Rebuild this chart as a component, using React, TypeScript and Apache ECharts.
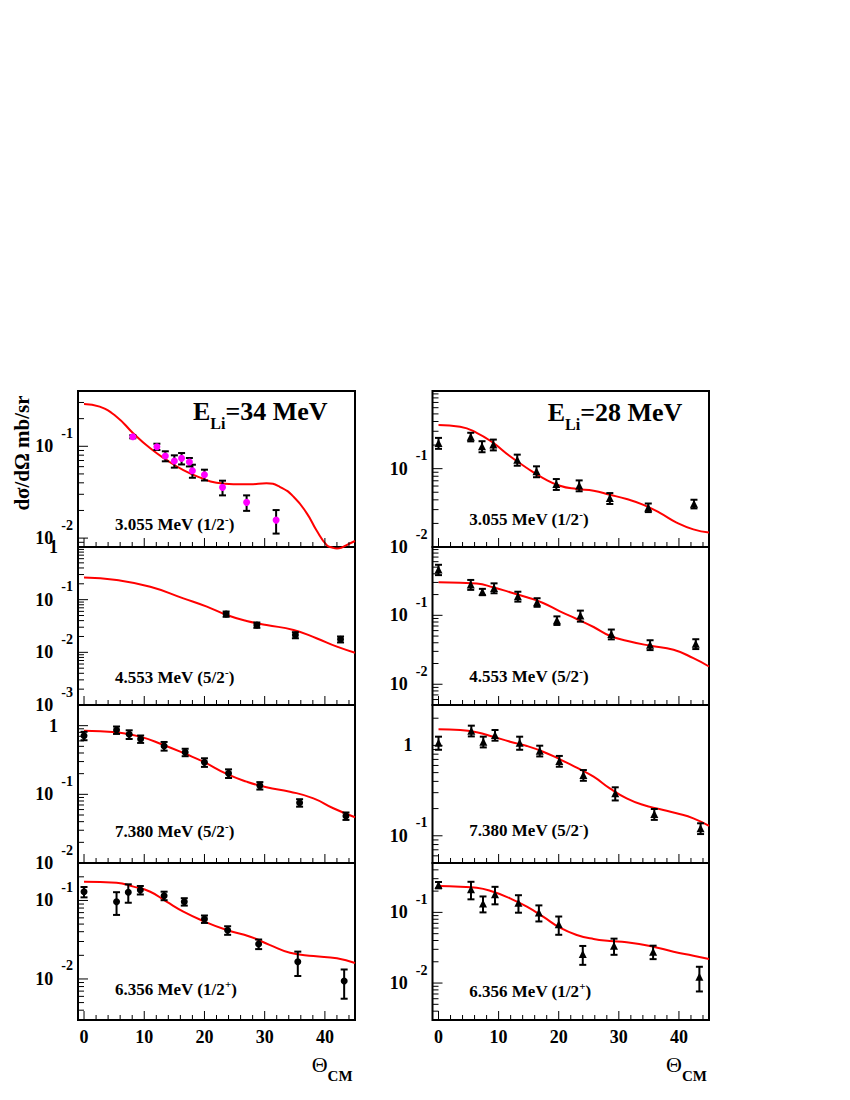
import React, { useEffect, useRef } from 'react';
import * as echarts from 'echarts';

const FF = '"Liberation Serif", "Times New Roman", Times, serif';

// ---- axis ticks ----
const xMajorTicks = [0, 10, 20, 30, 40];
const xMinorTicks = [2, 4, 6, 8, 12, 14, 16, 18, 22, 24, 26, 28, 32, 34, 36, 38, 42, 44];

// ---- E_Li = 34 MeV (left column) ----
// 3.055 MeV (1/2-)
const l1X = [8.1, 12.1, 13.5, 15.0, 16.2, 17.5, 18.0, 20.0, 23.0, 27.0, 31.9];
const l1Y = [0.127, 0.0989, 0.0784, 0.0691, 0.0739, 0.0674, 0.0542, 0.049, 0.0357, 0.0245, 0.0157];
const l1E = [0.0048, 0.0077, 0.0098, 0.0106, 0.0105, 0.0071, 0.0088, 0.0066, 0.0065, 0.0047, 0.0045];
const l1CX = [0, 2.6, 5.4, 8.2, 11.0, 13.7, 16.5, 19.3, 22.0, 24.8, 27.6, 30.3, 32.5, 34.8, 37.0, 38.6, 40.3, 41.2, 42.0, 42.8, 43.6, 45];
const l1CY = [0.289, 0.27, 0.21, 0.138, 0.095, 0.071, 0.055, 0.0455, 0.04, 0.0386, 0.0386, 0.0395, 0.0362, 0.0282, 0.0186, 0.0122, 0.0084, 0.0079, 0.0077, 0.0079, 0.0084, 0.0093];
// 4.553 MeV (5/2-)
const l2X = [23.6, 28.7, 35.1, 42.6];
const l2Y = [0.0534, 0.033, 0.0213, 0.0177];
const l2E = [0.0061, 0.0038, 0.0028, 0.0023];
const l2CX = [0, 5.4, 11.0, 16.5, 20.4, 23.7, 27.0, 30.3, 34.8, 38.6, 42.0, 45];
const l2CY = [0.265, 0.236, 0.176, 0.106, 0.0736, 0.0512, 0.0394, 0.033, 0.0266, 0.0185, 0.0128, 0.00985];
// 7.380 MeV (5/2-)
const l3X = [0, 5.4, 7.5, 9.4, 13.3, 16.8, 20.0, 24.0, 29.2, 35.8, 43.5];
const l3Y = [0.714, 0.865, 0.748, 0.64, 0.506, 0.41, 0.293, 0.202, 0.134, 0.0755, 0.0484];
const l3E = [0.1, 0.107, 0.108, 0.079, 0.073, 0.051, 0.042, 0.029, 0.0166, 0.0094, 0.006];
const l3CX = [0, 5.4, 9.3, 13.2, 17.0, 19.8, 23.7, 27.0, 30.3, 34.2, 38.1, 41.4, 45];
const l3CY = [0.845, 0.8, 0.692, 0.523, 0.383, 0.299, 0.198, 0.153, 0.1266, 0.1094, 0.0875, 0.0627, 0.0463];
// 6.356 MeV (1/2+)
const l4X = [0, 5.4, 7.35, 9.35, 13.3, 16.65, 20.0, 23.85, 29.0, 35.5, 43.2];
const l4Y = [0.129, 0.0964, 0.127, 0.136, 0.115, 0.0964, 0.058, 0.0417, 0.0279, 0.0166, 0.0094];
const l4E = [0.0195, 0.031, 0.0335, 0.0169, 0.0143, 0.0104, 0.0063, 0.0052, 0.0039, 0.0057, 0.0038];
const l4CX = [0, 5.4, 8.2, 11.0, 13.7, 16.5, 19.8, 23.7, 27.6, 30.9, 34.2, 38.1, 42.0, 45];
const l4CY = [0.173, 0.168, 0.15, 0.129, 0.0964, 0.072, 0.0547, 0.042, 0.0345, 0.027, 0.0216, 0.0196, 0.0183, 0.016];

// ---- E_Li = 28 MeV (right column) ----
const r1X = [0, 5.36, 7.24, 9.12, 13.1, 16.3, 19.6, 23.4, 28.5, 34.9, 42.5];
const r1Y = [0.213, 0.255, 0.193, 0.203, 0.13, 0.0924, 0.0636, 0.0611, 0.0421, 0.0319, 0.0356];
const r1E = [0.034, 0.032, 0.031, 0.032, 0.021, 0.0147, 0.0101, 0.0097, 0.0067, 0.004, 0.0045];
const r1CX = [0, 3.6, 6.35, 9.1, 11.9, 14.7, 17.4, 20.2, 23.0, 25.8, 28.5, 31.3, 34.1, 36.9, 39.6, 42.4, 45];
const r1CY = [0.36, 0.342, 0.287, 0.213, 0.144, 0.102, 0.0759, 0.0605, 0.0549, 0.0522, 0.0464, 0.0409, 0.0345, 0.027, 0.0205, 0.0168, 0.0153];

const r2X = [0, 5.36, 7.3, 9.24, 13.2, 16.4, 19.7, 23.6, 28.75, 35.2, 42.8];
const r2Y = [0.462, 0.28, 0.219, 0.25, 0.189, 0.155, 0.0845, 0.099, 0.0535, 0.0374, 0.0387];
const r2E = [0.079, 0.046, 0.023, 0.041, 0.031, 0.022, 0.012, 0.018, 0.0087, 0.0061, 0.0063];
const r2CX = [0, 3.6, 6.35, 9.1, 11.9, 14.7, 17.4, 20.2, 23.0, 25.8, 28.5, 31.3, 35.2, 39.1, 42.4, 45];
const r2CY = [0.302, 0.296, 0.289, 0.255, 0.216, 0.183, 0.151, 0.114, 0.0885, 0.0677, 0.0506, 0.0428, 0.0362, 0.0316, 0.0239, 0.0181];

const r3X = [0, 5.46, 7.45, 9.4, 13.5, 16.84, 20.1, 24.1, 29.4, 35.9, 43.6];
const r3Y = [1.072, 1.456, 1.1, 1.305, 1.072, 0.874, 0.673, 0.47, 0.295, 0.174, 0.121];
const r3E = [0.177, 0.198, 0.15, 0.177, 0.177, 0.119, 0.092, 0.064, 0.049, 0.024, 0.0165];
const r3CX = [0, 3.6, 6.35, 9.1, 11.9, 14.7, 17.4, 20.2, 23.0, 25.8, 28.5, 31.3, 34.1, 36.9, 39.6, 42.4, 45];
const r3CY = [1.507, 1.48, 1.397, 1.249, 1.1, 0.985, 0.852, 0.702, 0.567, 0.451, 0.335, 0.26, 0.219, 0.197, 0.1775, 0.156, 0.1285];

const r4X = [0, 5.4, 7.4, 9.4, 13.3, 16.7, 20.0, 24.0, 29.2, 35.7, 43.4];
const r4Y = [0.244, 0.212, 0.134, 0.18, 0.137, 0.1, 0.0678, 0.0258, 0.0338, 0.0278, 0.0123];
const r4E = [0.025, 0.059, 0.034, 0.05, 0.038, 0.0256, 0.0196, 0.0077, 0.0087, 0.006, 0.0047];
const r4CX = [0, 3.6, 6.35, 9.1, 11.9, 14.7, 17.4, 20.2, 23.0, 25.8, 28.5, 31.3, 35.7, 39.1, 42.4, 45];
const r4CY = [0.236, 0.231, 0.2236, 0.196, 0.158, 0.1205, 0.0869, 0.0607, 0.0479, 0.042, 0.0394, 0.0378, 0.0327, 0.0278, 0.0244, 0.0219];

// y ranges per panel
const leftRanges = [[0.008, 0.4], [0.001, 1], [0.01, 2], [0.003, 0.3]];
const rightRanges = [[0.01, 0.98], [0.005, 0.98], [0.05, 2.8], [0.003, 0.5]];

// state labels: [main text, parity]
const stateTexts = ['3.055 MeV (1/2', '4.553 MeV (5/2', '7.380 MeV (5/2', '6.356 MeV (1/2'];
const stateParity = ['-', '-', '-', '+'];
const beamEnergies = ['34', '28'];

// ---- layout ----
const colLeft = [78, 432.5];
const colWidth = [277, 276.5];
const rowTop = [391, 547, 705, 863];
const rowHeight = [156, 158, 158, 157];
const labelX = [115, 469.3];
const labelBaseline = [[530, 682.7, 836.7, 995], [525, 681.7, 836, 996.7]];

const leftData = [
  [l1X, l1Y, l1E, l1CX, l1CY],
  [l2X, l2Y, l2E, l2CX, l2CY],
  [l3X, l3Y, l3E, l3CX, l3CY],
  [l4X, l4Y, l4E, l4CX, l4CY],
];
const rightData = [
  [r1X, r1Y, r1E, r1CX, r1CY],
  [r2X, r2Y, r2E, r2CX, r2CY],
  [r3X, r3Y, r3E, r3CX, r3CY],
  [r4X, r4Y, r4E, r4CX, r4CY],
];

function yTickList(min: number, max: number) {
  const out: { v: number; major: boolean }[] = [];
  for (let k = Math.floor(Math.log10(min)); k <= Math.ceil(Math.log10(max)); k++) {
    for (let m = 1; m <= 9; m++) {
      const v = m * Math.pow(10, k);
      if (v >= min * (1 - 1e-9) && v <= max * (1 + 1e-9)) out.push({ v, major: m === 1 });
    }
  }
  return out;
}

const fmtY = (v: number) => {
  const l = Math.log10(v);
  const k = Math.round(l);
  if (Math.abs(l - k) > 1e-6) return '';
  if (k === 0) return '{one|1}';
  if (k === 1) return '{b|10}';
  return `{b|10}{e|${k}}`;
};

const yRich = {
  b: { fontFamily: FF, fontWeight: 'bold', fontSize: 18, lineHeight: 40, color: '#000' },
  e: { fontFamily: FF, fontWeight: 'bold', fontSize: 14, verticalAlign: 'top', padding: [0, 0, 0, 8], color: '#000' },
  one: { fontFamily: FF, fontWeight: 'bold', fontSize: 18, lineHeight: 40, padding: [0, 15, 0, 0], color: '#000' },
};

function buildOption() {
  const grids: any[] = [];
  const xAxes: any[] = [];
  const yAxes: any[] = [];
  const series: any[] = [];
  const graphic: any[] = [];

  for (let c = 0; c < 2; c++) {
    for (let r = 0; r < 4; r++) {
      const p = c * 4 + r;
      const [ymin, ymax] = (c === 0 ? leftRanges : rightRanges)[r];
      const [px, py, pe, cx, cy] = (c === 0 ? leftData : rightData)[r];
      grids.push({
        left: colLeft[c], top: rowTop[r], width: colWidth[c], height: rowHeight[r],
        show: true, borderColor: '#000', borderWidth: 2, backgroundColor: 'transparent',
      });
      xAxes.push({
        type: 'value', gridIndex: p, min: -1, max: 45,
        axisLine: { show: false }, axisTick: { show: false }, splitLine: { show: false },
        axisLabel: {
          show: r === 3, margin: 8, showMinLabel: true, showMaxLabel: true,
          fontFamily: FF, fontWeight: 'bold', fontSize: 18, lineHeight: 18, color: '#000',
          formatter: (v: number) => (xMajorTicks.indexOf(v) >= 0 ? String(v) : ''),
        },
      });
      yAxes.push({
        type: 'log', logBase: 10, gridIndex: p, min: ymin, max: ymax,
        axisLine: { show: false }, axisTick: { show: false }, splitLine: { show: false },
        axisLabel: {
          show: true, margin: 5, showMinLabel: true, showMaxLabel: true,
          formatter: fmtY, rich: yRich, color: '#000',
        },
      });
      // theory curve
      series.push({
        type: 'line', xAxisIndex: p, yAxisIndex: p,
        data: cx.map((x: number, i: number) => [x, cy[i]]),
        smooth: 0.5, showSymbol: false, symbol: 'none',
        lineStyle: { color: '#ff0000', width: 2 }, clip: p !== 0, z: 3, silent: true,
      });
      // error bars
      series.push({
        type: 'custom', xAxisIndex: p, yAxisIndex: p, coordinateSystem: 'cartesian2d',
        data: px.map((x: number, i: number) => [x, py[i], pe[i]]),
        encode: { x: 0, y: 1 }, z: 4, silent: true,
        renderItem: (params: any, api: any) => {
          const x = api.value(0), v = api.value(1), e = api.value(2);
          const top = api.coord([x, v + e]);
          const bot = api.coord([x, Math.max(v - e, v * 0.05)]);
          const cw = 3.5;
          const st = { stroke: '#000', lineWidth: 2 };
          return {
            type: 'group',
            children: [
              { type: 'line', shape: { x1: top[0], y1: top[1], x2: bot[0], y2: bot[1] }, style: st },
              { type: 'line', shape: { x1: top[0] - cw, y1: top[1], x2: top[0] + cw, y2: top[1] }, style: st },
              { type: 'line', shape: { x1: bot[0] - cw, y1: bot[1], x2: bot[0] + cw, y2: bot[1] }, style: st },
            ],
          };
        },
      });
      // markers
      series.push({
        type: 'scatter', xAxisIndex: p, yAxisIndex: p,
        data: px.map((x: number, i: number) => [x, py[i]]),
        symbol: c === 0 ? 'circle' : 'triangle', symbolSize: c === 0 ? 7 : 8,
        itemStyle: { color: p === 0 ? '#ff00ff' : '#000', opacity: 1 }, z: 5, silent: true,
      });
      // tick marks
      const yt = yTickList(ymin, ymax);
      series.push({
        type: 'custom', xAxisIndex: p, yAxisIndex: p, coordinateSystem: 'cartesian2d',
        data: [[0, ymin]], encode: { x: 0, y: 1 }, z: 6, silent: true,
        renderItem: (params: any, api: any) => {
          const cs = params.coordSys;
          const ch: any[] = [];
          const st = { stroke: '#000', lineWidth: 1 };
          for (const t of yt) {
            const yy = api.coord([0, t.v])[1];
            const len = t.major ? 10 : 6;
            ch.push({ type: 'line', shape: { x1: cs.x, y1: yy, x2: cs.x + len, y2: yy }, style: st });
          }
          const yb = cs.y + cs.height;
          for (const t of xMajorTicks) {
            const xx = api.coord([t, ymin])[0];
            ch.push({ type: 'line', shape: { x1: xx, y1: yb, x2: xx, y2: yb - 9 }, style: st });
          }
          for (const t of xMinorTicks) {
            const xx = api.coord([t, ymin])[0];
            ch.push({ type: 'line', shape: { x1: xx, y1: yb, x2: xx, y2: yb - 5 }, style: st });
          }
          return { type: 'group', children: ch };
        },
      });
      // state label
      graphic.push({
        type: 'text', x: labelX[c], y: labelBaseline[c][r] - 5.7, z: 10,
        style: {
          text: `{n|${stateTexts[r]}}{s|${stateParity[r]}}{n|)}`,
          align: 'left', verticalAlign: 'middle',
          rich: {
            n: { fontFamily: FF, fontWeight: 'bold', fontSize: 17, lineHeight: 22, fill: '#000' },
            s: { fontFamily: FF, fontWeight: 'bold', fontSize: 11, verticalAlign: 'top', fill: '#000' },
          },
        },
      });
    }
  }

  // beam energy labels
  const eX = [193, 547.7];
  const eY = [411.2, 412.6];
  for (let c = 0; c < 2; c++) {
    graphic.push({
      type: 'text', x: eX[c], y: eY[c], z: 10,
      style: {
        text: `{E|E}{s|Li}{E|=${beamEnergies[c]} MeV}`,
        align: 'left', verticalAlign: 'middle',
        rich: {
          E: { fontFamily: FF, fontWeight: 'bold', fontSize: 26, lineHeight: 40, fill: '#000' },
          s: { fontFamily: FF, fontWeight: 'bold', fontSize: 16, verticalAlign: 'bottom', fill: '#000' },
        },
      },
    });
  }
  // x axis titles
  const tX = [311.7, 666];
  for (let c = 0; c < 2; c++) {
    graphic.push({
      type: 'text', x: tX[c], y: 1064.2, z: 10,
      style: {
        text: '{t|Θ}{s|CM}',
        align: 'left', verticalAlign: 'middle',
        rich: {
          t: { fontFamily: FF, fontWeight: 'normal', fontSize: 22, lineHeight: 38, fill: '#000' },
          s: { fontFamily: FF, fontWeight: 'bold', fontSize: 15, verticalAlign: 'bottom', fill: '#000' },
        },
      },
    });
  }
  // y axis title
  graphic.push({
    type: 'text', x: 22.4, y: 453, rotation: Math.PI / 2, z: 10,
    style: {
      text: 'dσ/dΩ mb/sr', fontFamily: FF, fontWeight: 'bold', fontSize: 21, fill: '#000',
      align: 'center', verticalAlign: 'middle',
    },
  });

  return {
    animation: false,
    backgroundColor: '#fff',
    grid: grids,
    xAxis: xAxes,
    yAxis: yAxes,
    series,
    graphic,
  };
}

export default function App() {
  const ref = useRef<HTMLDivElement>(null);
  useEffect(() => {
    const chart = echarts.init(ref.current as HTMLDivElement, null, { renderer: 'svg' });
    chart.setOption(buildOption() as any);
    return () => chart.dispose();
  }, []);
  return (
    <div
      ref={ref}
      style={{ position: 'absolute', left: 0, top: 0, width: 850, height: 1100, background: '#fff' }}
    />
  );
}
